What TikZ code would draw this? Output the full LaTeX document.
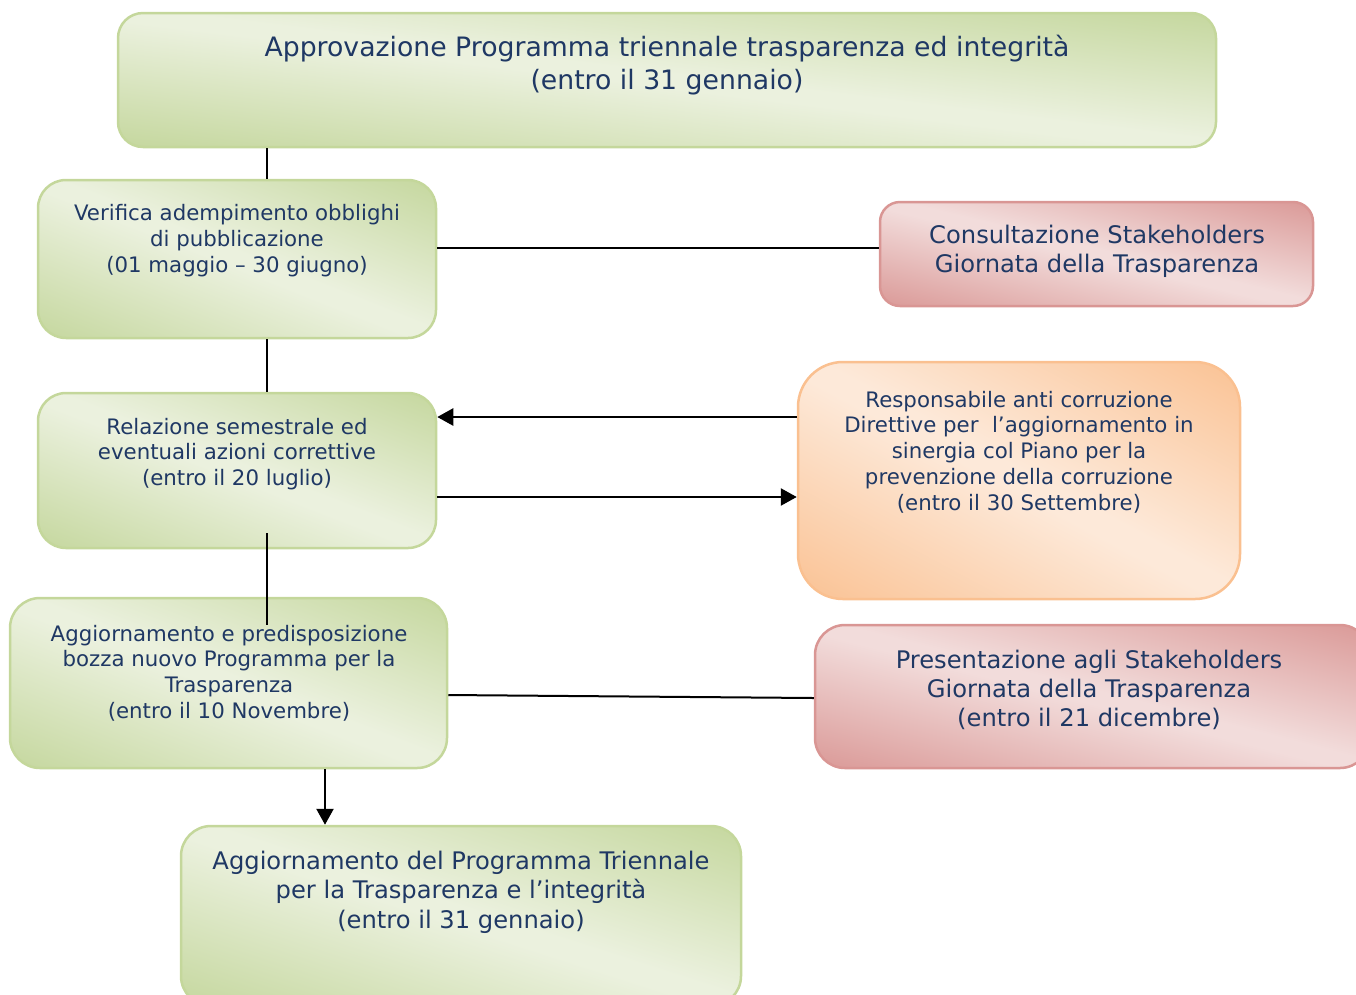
\documentclass[tikz,border=0pt]{standalone}
\usepackage{fontspec}
\setmainfont{DejaVu Sans}
\usetikzlibrary{arrows.meta}
\definecolor{gborder}{HTML}{C4D79B}
\definecolor{pdark}{HTML}{D99694}
\definecolor{odark}{HTML}{FAC090}
\definecolor{txtc}{HTML}{1F3864}
% diagonal gradients: dark at bottom-left and top-right corners, light across the middle
\pgfdeclarefunctionalshading{gsh}{\pgfpoint{0bp}{0bp}}{\pgfpoint{100bp}{100bp}}{}{
 add 100 sub 50 div abs 1.05 exch sub 1.0 div dup 1 gt {pop 1} if dup 0 lt {pop 0} if
 dup dup 0.263 mul 0.608 add exch 0.106 mul 0.839 add exch 3 -1 roll 0.157 mul 0.765 add 3 1 roll}
\pgfdeclarefunctionalshading{psh}{\pgfpoint{0bp}{0bp}}{\pgfpoint{100bp}{100bp}}{}{
 add 100 sub 50 div abs 1.05 exch sub 1.0 div dup 1 gt {pop 1} if dup 0 lt {pop 0} if
 dup dup 0.279 mul 0.580 add exch 0.275 mul 0.588 add exch 3 -1 roll 0.098 mul 0.851 add 3 1 roll}
\pgfdeclarefunctionalshading{osh}{\pgfpoint{0bp}{0bp}}{\pgfpoint{100bp}{100bp}}{}{
 add 100 sub 50 div abs 1.05 exch sub 1.0 div dup 1 gt {pop 1} if dup 0 lt {pop 0} if
 dup dup 0.286 mul 0.565 add exch 0.161 mul 0.753 add exch 3 -1 roll 0.012 mul 0.980 add 3 1 roll}
\tikzset{
  boxbase/.style={rectangle, line width=2.5pt, inner sep=0pt, shade},
  gbox/.style={boxbase, draw=gborder, shading=gsh},
  pbox/.style={boxbase, draw=pdark, shading=psh},
  obox/.style={boxbase, draw=odark, shading=osh},
  txt/.style={text=txtc, align=center, inner sep=0pt},
  conn/.style={draw=black, line width=2pt},
  arr/.style={draw=black, line width=2.5pt, -{Triangle[length=16pt,width=17pt]}}
}
\begin{document}
\begin{tikzpicture}[x=1pt,y=-1pt]
\useasboundingbox (0,0) rectangle (1356,994);
\begin{scope}
\clip (0,0) rectangle (1356,994);
% boxes
\node[gbox, rounded corners=25pt, minimum width=1098pt, minimum height=134pt] (b1) at (667,80) {};
\node[gbox, rounded corners=28pt, minimum width=398pt, minimum height=158pt] (b2) at (237,259) {};
\node[gbox, rounded corners=28pt, minimum width=398pt, minimum height=155pt] (b3) at (237,470.5) {};
\node[gbox, rounded corners=30pt, minimum width=437pt, minimum height=170pt] (b4) at (228.5,683) {};
\node[gbox, rounded corners=30pt, minimum width=560pt, minimum height=180pt] (b5) at (461,916) {};
\node[pbox, rounded corners=20pt, minimum width=433pt, minimum height=104pt] (cons) at (1096.5,254) {};
\node[obox, rounded corners=45pt, minimum width=442pt, minimum height=237pt] (resp) at (1019,480.5) {};
\node[pbox, rounded corners=30pt, minimum width=555pt, minimum height=143pt] (pres) at (1092.5,696.5) {};
% texts
\node[txt, font=\fontsize{26.7}{32.2}\selectfont] (t1) at (667,65) {Approvazione Programma triennale trasparenza ed integrità\\(entro il 31 gennaio)};
\node[txt, font=\fontsize{21.3}{26}\selectfont] (t2) at (237,241) {Verifica adempimento obblighi\\di pubblicazione\\(01 maggio – 30 giugno)};
\node[txt, font=\fontsize{21.3}{25.5}\selectfont] (t3) at (237,454) {Relazione semestrale ed\\eventuali azioni correttive\\(entro il 20 luglio)};
\node[txt, font=\fontsize{21.3}{25.8}\selectfont] (t4) at (229,673) {Aggiornamento e predisposizione\\bozza nuovo Programma per la\\Trasparenza\\(entro il 10 Novembre)};
\node[txt, font=\fontsize{24.2}{29.5}\selectfont] (t5) at (461,892) {Aggiornamento del Programma Triennale\\per la Trasparenza e l’integrità\\(entro il 31 gennaio)};
\node[txt, font=\fontsize{24.2}{29}\selectfont] (t6) at (1097,251) {Consultazione Stakeholders\\Giornata della Trasparenza};
\node[txt, font=\fontsize{21.3}{25.75}\selectfont] (t7) at (1019,452) {Responsabile anti corruzione\\Direttive per\ \ l’aggiornamento in\\sinergia col Piano per la\\prevenzione della corruzione\\(entro il 30 Settembre)};
\node[txt, font=\fontsize{24.2}{29}\selectfont] (t8) at (1089,690) {Presentazione agli Stakeholders\\Giornata della Trasparenza\\(entro il 21 dicembre)};
% connectors
\coordinate (v) at (267,0);
\coordinate (c3) at (267,533);
\coordinate (c4) at (267,625);
\coordinate (h1) at (0,248);
\coordinate (h2) at (0,417);
\coordinate (h3) at (0,497);
\coordinate (h4a) at (0,695);
\coordinate (h4b) at (0,698);
\coordinate (v5) at (325,0);
\draw[conn] (b1.south -| v) -- (b2.north -| v);
\draw[conn] (b2.south -| v) -- (b3.north -| v);
\draw[conn] (c3) -- (c4);
\draw[conn] (b2.east |- h1) -- (cons.west |- h1);
\draw[arr] (resp.west |- h2) -- (b3.east |- h2);
\draw[arr] (b3.east |- h3) -- (resp.west |- h3);
\draw[conn] (b4.east |- h4a) -- (pres.west |- h4b);
\draw[arr] (b4.south -| v5) -- (b5.north -| v5);
\end{scope}
\end{tikzpicture}
\end{document}
